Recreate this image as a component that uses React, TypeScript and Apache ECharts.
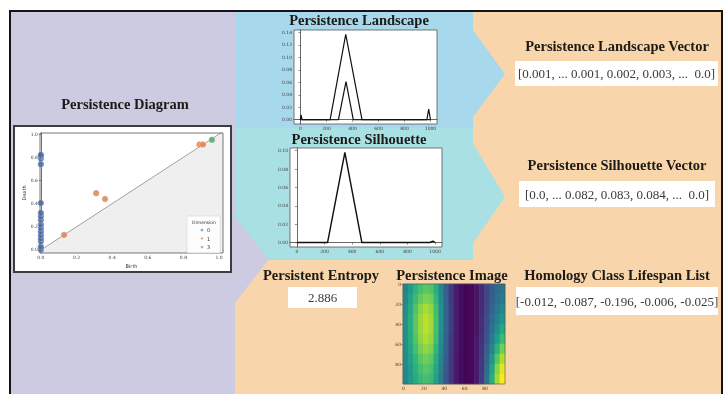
import React, { useEffect, useRef } from "react";
import * as echarts from "echarts";

// ---------- Persistence diagram data ----------
const dim0Births = [0, 0, 0, 0, 0, 0, 0, 0, 0, 0, 0, 0, 0, 0, 0, 0, 0];
const dim0Deaths = [0.0, 0.01, 0.03, 0.075, 0.1, 0.13, 0.16, 0.19, 0.22, 0.26, 0.29, 0.32, 0.405, 0.74, 0.79, 0.81, 0.82];
const dim1Births = [0.13, 0.31, 0.36, 0.89, 0.91];
const dim1Deaths = [0.13, 0.49, 0.44, 0.91, 0.91];
const dim3Births = [0.96];
const dim3Deaths = [0.95];
const diagramTicks = [0, 0.2, 0.4, 0.6, 0.8, 1.0];
const dimensionNames = ["0", "1", "3"];

// ---------- Persistence landscape data ----------
const land1X = [0, 4, 12, 228, 348, 473, 972, 986, 1000];
const land1Y = [0, 0.0077, 0, 0, 0.137, 0, 0, 0.017, 0];
const land2X = [0, 292, 350, 406, 1000];
const land2Y = [0, 0, 0.061, 0, 0];
const landXTicks = [0, 200, 400, 600, 800, 1000];
const landYTicks = [0, 0.02, 0.04, 0.06, 0.08, 0.1, 0.12, 0.14];

// ---------- Persistence silhouette data ----------
const silX = [0, 222, 347, 470, 962, 985, 1000];
const silY = [0, 0, 0.098, 0, 0, 0.0015, 0];
const silYTicks = [0, 0.02, 0.04, 0.06, 0.08, 0.1];

// ---------- Persistence image data (10 rows x 20 columns, top to bottom) ----------
const imageCols = ["0", "5", "10", "15", "20", "25", "30", "35", "40", "45", "50", "55", "60", "65", "70", "75", "80", "85", "90", "95"];
const imageRowsLabels = ["0", "10", "20", "30", "40", "50", "60", "70", "80", "90"];
const imageRows = [
  [0.45, 0.55, 0.64, 0.7, 0.74, 0.72, 0.62, 0.46, 0.3, 0.17, 0.08, 0.03, 0.01, 0.02, 0.06, 0.12, 0.22, 0.29, 0.34, 0.38],
  [0.47, 0.58, 0.68, 0.76, 0.8, 0.78, 0.66, 0.48, 0.31, 0.17, 0.08, 0.03, 0.01, 0.02, 0.06, 0.12, 0.22, 0.3, 0.36, 0.41],
  [0.49, 0.6, 0.72, 0.82, 0.87, 0.83, 0.69, 0.5, 0.32, 0.18, 0.08, 0.03, 0.01, 0.02, 0.06, 0.12, 0.23, 0.32, 0.4, 0.46],
  [0.5, 0.62, 0.74, 0.85, 0.9, 0.86, 0.7, 0.5, 0.32, 0.18, 0.08, 0.03, 0.01, 0.02, 0.06, 0.13, 0.24, 0.34, 0.44, 0.52],
  [0.5, 0.62, 0.74, 0.85, 0.9, 0.86, 0.7, 0.5, 0.32, 0.18, 0.08, 0.03, 0.01, 0.02, 0.06, 0.13, 0.25, 0.37, 0.49, 0.59],
  [0.5, 0.61, 0.73, 0.83, 0.88, 0.84, 0.69, 0.49, 0.31, 0.17, 0.08, 0.03, 0.01, 0.02, 0.07, 0.14, 0.27, 0.41, 0.56, 0.68],
  [0.49, 0.59, 0.7, 0.79, 0.83, 0.8, 0.66, 0.47, 0.3, 0.17, 0.08, 0.03, 0.01, 0.02, 0.07, 0.15, 0.3, 0.46, 0.64, 0.78],
  [0.48, 0.57, 0.66, 0.74, 0.78, 0.75, 0.62, 0.45, 0.29, 0.16, 0.07, 0.03, 0.01, 0.02, 0.07, 0.16, 0.33, 0.52, 0.73, 0.88],
  [0.47, 0.55, 0.63, 0.7, 0.74, 0.71, 0.59, 0.43, 0.28, 0.16, 0.07, 0.03, 0.01, 0.02, 0.07, 0.17, 0.36, 0.58, 0.81, 0.96],
  [0.46, 0.54, 0.61, 0.67, 0.7, 0.68, 0.57, 0.42, 0.27, 0.15, 0.07, 0.03, 0.01, 0.02, 0.07, 0.18, 0.38, 0.62, 0.86, 1.0],
];
const imageTicks = [0, 20, 40, 60, 80];

// ---------- Text panels ----------
const landscapeVectorText = "[0.001, ... 0.001, 0.002, 0.003, ...  0.0]";
const silhouetteVectorText = "[0.0, ... 0.082, 0.083, 0.084, ...  0.0]";
const lifespanText = "[-0.012, -0.087, -0.196, -0.006, -0.025]";
const entropyText = "2.886";

const viridis = ["#440154", "#482878", "#3e4989", "#31688e", "#26828e", "#1f9e89", "#35b779", "#6ece58", "#b5de2b", "#fde725"];

const zip = (xs: number[], ys: number[]) => xs.map((x, i) => [x, ys[i]]);

const TITLE_FONT = 'bold 14.5px "Liberation Serif", "DejaVu Serif", serif';
const BOX_FONT = '13px "Liberation Serif", "DejaVu Serif", serif';

function smallAxis(extra: any) {
  return {
    type: "value",
    splitLine: { show: false },
    axisLine: { show: true, lineStyle: { color: "#444", width: 0.8 } },
    axisTick: { show: true, length: 2, lineStyle: { color: "#444", width: 0.6 } },
    axisLabel: { fontSize: 4.5, color: "#444", margin: 2, fontFamily: "DejaVu Sans" },
    ...extra,
  };
}

const tickLabel = (values: number[], formatter: (v: number) => string) => ({
  fontSize: 4.5,
  color: "#444",
  margin: 2,
  fontFamily: "DejaVu Sans",
  customValues: values,
  formatter,
});
const tickMarks = (values: number[]) => ({ show: true, length: 2, customValues: values, lineStyle: { color: "#444", width: 0.6 } });

export default function App() {
  const ref = useRef<HTMLDivElement>(null);

  useEffect(() => {
    if (!ref.current) return;
    const chart = echarts.init(ref.current, undefined, { renderer: "svg" });

    const dXmin = -0.005, dXmax = 1.022, dYmin = -0.026, dYmax = 1.009;

    const heatData: number[][] = [];
    imageRows.forEach((row, r) => row.forEach((v, c) => heatData.push([c, r, v])));

    const titleText = (text: string, x: number, y: number) => ({
      type: "text",
      x,
      y,
      z: 20,
      style: { text, font: TITLE_FONT, fill: "#1c1a17", textAlign: "center", textVerticalAlign: "middle" },
    });
    const whiteBox = (x: number, y: number, w: number, h: number, text: string) => [
      { type: "rect", z: 15, shape: { x, y, width: w, height: h }, style: { fill: "#ffffff" } },
      {
        type: "text",
        x: x + w / 2,
        y: y + h / 2,
        z: 16,
        style: { text, font: BOX_FONT, fill: "#3a3a3a", textAlign: "center", textVerticalAlign: "middle" },
      },
    ];

    const option: any = {
      animation: false,
      graphic: [
        { type: "rect", z: -20, shape: { x: 10, y: 11, width: 713, height: 383 }, style: { fill: "#cdcbe2" } },
        {
          type: "polygon",
          z: -19,
          shape: { points: [[473, 11], [722, 11], [722, 394], [235, 394], [235, 303], [268, 260], [473, 260]] },
          style: { fill: "#f9d5ab" },
        },
        {
          type: "polygon",
          z: -18,
          shape: { points: [[235, 11], [473, 11], [473, 30], [505, 74], [473, 117], [473, 128], [235, 128]] },
          style: { fill: "#a8d8eb" },
        },
        {
          type: "polygon",
          z: -18,
          shape: { points: [[235, 128], [473, 128], [473, 143], [505, 197], [473, 243], [473, 259], [268, 259], [235, 217]] },
          style: { fill: "#a9e0e4" },
        },
        {
          type: "polyline",
          z: 50,
          shape: { points: [[10, 394], [10, 11], [722, 11], [722, 394]] },
          style: { stroke: "#141414", lineWidth: 2, fill: null },
        },
        // diagram outer frame
        { type: "rect", z: -10, shape: { x: 14, y: 126, width: 217, height: 146 }, style: { fill: "#ffffff", stroke: "#3c3c3c", lineWidth: 2 } },
        // diagram plot frame
        { type: "rect", z: 12, shape: { x: 40, y: 133, width: 183, height: 120 }, style: { fill: null, stroke: "#555", lineWidth: 0.8 } },
        // image frame
        { type: "rect", z: 12, shape: { x: 403, y: 284, width: 102, height: 100 }, style: { fill: null, stroke: "#555", lineWidth: 0.6 } },
        titleText("Persistence Diagram", 125, 104),
        titleText("Persistence Landscape", 359, 20),
        titleText("Persistence Silhouette", 359, 139),
        titleText("Persistent Entropy", 321, 275),
        titleText("Persistence Image", 452, 275),
        titleText("Persistence Landscape Vector", 617, 46),
        titleText("Persistence Silhouette Vector", 617, 165),
        titleText("Homology Class Lifespan List", 617, 275),
        ...whiteBox(515, 61, 203, 25, landscapeVectorText),
        ...whiteBox(519, 181, 196, 26, silhouetteVectorText),
        ...whiteBox(516, 287, 202, 28, lifespanText),
        ...whiteBox(288, 287, 69, 21, entropyText),
        {
          type: "text",
          x: 204,
          y: 222,
          z: 30,
          style: { text: "Dimension", font: '4.5px "DejaVu Sans"', fill: "#333", textAlign: "center", textVerticalAlign: "middle" },
        },
      ],
      legend: {
        data: dimensionNames,
        orient: "vertical",
        left: 187,
        top: 216,
        padding: [11, 10, 3, 12],
        itemWidth: 4,
        itemHeight: 4,
        itemGap: 2.5,
        icon: "circle",
        backgroundColor: "rgba(255,255,255,0.85)",
        borderColor: "#cccccc",
        borderWidth: 0.5,
        borderRadius: 1,
        textStyle: { fontSize: 5, color: "#333", fontFamily: "DejaVu Sans", padding: [0, 0, 0, -2] },
        z: 20,
      },
      grid: [
        { left: 40, top: 133, width: 183, height: 120, show: true, backgroundColor: "#ffffff", borderWidth: 0 },
        { left: 294, top: 30, width: 143, height: 94, show: true, backgroundColor: "#ffffff", borderColor: "#555", borderWidth: 0.8 },
        { left: 290, top: 148, width: 152, height: 99, show: true, backgroundColor: "#ffffff", borderColor: "#555", borderWidth: 0.8 },
        { left: 403, top: 284, width: 102, height: 100, show: false },
        { left: 403, top: 284, width: 102, height: 100, show: false },
      ],
      xAxis: [
        smallAxis({
          gridIndex: 0,
          min: dXmin,
          max: dXmax,
          axisTick: tickMarks(diagramTicks),
          axisLabel: tickLabel(diagramTicks, (v) => v.toFixed(1)),
          name: "Birth",
          nameLocation: "middle",
          nameGap: 10,
          nameTextStyle: { fontSize: 5, color: "#333", fontFamily: "DejaVu Sans" },
        }),
        smallAxis({
          gridIndex: 1,
          min: -50,
          max: 1050,
          axisTick: tickMarks(landXTicks),
          axisLabel: tickLabel(landXTicks, (v) => String(Math.round(v))),
        }),
        smallAxis({
          gridIndex: 2,
          min: -50,
          max: 1050,
          axisTick: tickMarks(landXTicks),
          axisLabel: tickLabel(landXTicks, (v) => String(Math.round(v))),
        }),
        { type: "category", gridIndex: 3, data: imageCols, show: false },
        smallAxis({
          gridIndex: 4,
          min: -0.5,
          max: 99.5,
          axisLine: { show: false },
          axisTick: tickMarks(imageTicks),
          axisLabel: tickLabel(imageTicks, (v) => String(Math.round(v))),
        }),
      ],
      yAxis: [
        smallAxis({
          gridIndex: 0,
          min: dYmin,
          max: dYmax,
          axisTick: tickMarks(diagramTicks),
          axisLabel: tickLabel(diagramTicks, (v) => v.toFixed(1)),
          name: "Death",
          nameLocation: "middle",
          nameGap: 14,
          nameRotate: 90,
          nameTextStyle: { fontSize: 5, color: "#333", fontFamily: "DejaVu Sans" },
        }),
        smallAxis({
          gridIndex: 1,
          min: -0.00685,
          max: 0.1439,
          axisTick: tickMarks(landYTicks),
          axisLabel: tickLabel(landYTicks, (v) => v.toFixed(2)),
        }),
        smallAxis({
          gridIndex: 2,
          min: -0.0049,
          max: 0.1029,
          axisTick: tickMarks(silYTicks),
          axisLabel: tickLabel(silYTicks, (v) => v.toFixed(2)),
        }),
        { type: "category", gridIndex: 3, data: imageRowsLabels, inverse: true, show: false },
        smallAxis({
          gridIndex: 4,
          min: -0.5,
          max: 99.5,
          inverse: true,
          axisLine: { show: false },
          axisTick: tickMarks(imageTicks),
          axisLabel: tickLabel(imageTicks, (v) => String(Math.round(v))),
        }),
      ],
      visualMap: {
        show: false,
        seriesIndex: 7,
        min: 0,
        max: 1,
        dimension: 2,
        inRange: { color: viridis },
      },
      series: [
        {
          type: "line",
          xAxisIndex: 0,
          yAxisIndex: 0,
          data: [[dXmin, dXmin], [dXmax, dXmax]],
          symbol: "none",
          silent: true,
          lineStyle: { color: "#8a8a8a", width: 0.8 },
          areaStyle: { color: "#efefef", origin: "start", opacity: 1 },
          z: 1,
        },
        {
          name: dimensionNames[0],
          type: "scatter",
          xAxisIndex: 0,
          yAxisIndex: 0,
          data: zip(dim0Births, dim0Deaths),
          symbolSize: 6.5,
          itemStyle: { color: "#4c72b0", opacity: 0.85, borderColor: "#ffffff", borderWidth: 0.4 },
        },
        {
          name: dimensionNames[1],
          type: "scatter",
          xAxisIndex: 0,
          yAxisIndex: 0,
          data: zip(dim1Births, dim1Deaths),
          symbolSize: 6.5,
          itemStyle: { color: "#dd8452", opacity: 0.85, borderColor: "#ffffff", borderWidth: 0.4 },
        },
        {
          name: dimensionNames[2],
          type: "scatter",
          xAxisIndex: 0,
          yAxisIndex: 0,
          data: zip(dim3Births, dim3Deaths),
          symbolSize: 6.5,
          itemStyle: { color: "#55a868", opacity: 0.85, borderColor: "#ffffff", borderWidth: 0.4 },
        },
        {
          type: "line",
          xAxisIndex: 1,
          yAxisIndex: 1,
          data: zip(land1X, land1Y),
          symbol: "none",
          lineStyle: { color: "#111", width: 1.2 },
        },
        {
          type: "line",
          xAxisIndex: 1,
          yAxisIndex: 1,
          data: zip(land2X, land2Y),
          symbol: "none",
          lineStyle: { color: "#111", width: 1.2 },
        },
        {
          type: "line",
          xAxisIndex: 2,
          yAxisIndex: 2,
          data: zip(silX, silY),
          symbol: "none",
          lineStyle: { color: "#111", width: 1.4 },
        },
        {
          type: "heatmap",
          xAxisIndex: 3,
          yAxisIndex: 3,
          data: heatData,
          itemStyle: { borderWidth: 0 },
        },
      ],
    };

    chart.setOption(option);
    return () => chart.dispose();
  }, []);

  return <div ref={ref} style={{ position: "fixed", left: 0, top: 0, width: 725, height: 394 }} />;
}
